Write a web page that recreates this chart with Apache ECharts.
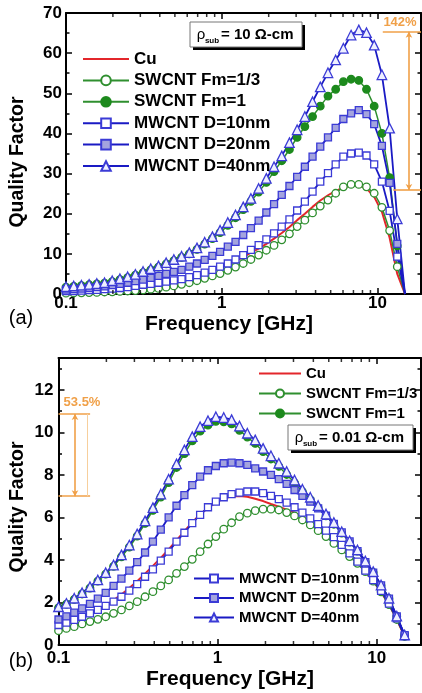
<!DOCTYPE html>
<html>
<head>
<meta charset="utf-8">
<script src="https://cdn.jsdelivr.net/npm/echarts@6/dist/echarts.min.js"></script>
<style>
  html, body { margin: 0; padding: 0; background: #fff; }
  #chart { width: 422px; height: 693px; }
</style>
</head>
<body>
<div id="chart"></div>
<script>
// Frequency sweep shared by both panels (GHz, log-spaced 0.1 .. 15)
const freqGHz = [0.1, 0.1121, 0.1256, 0.1407, 0.1577, 0.1767, 0.198, 0.2219, 0.2487, 0.2787,
  0.3123, 0.35, 0.3922, 0.4395, 0.4925, 0.5519, 0.6185, 0.6931, 0.7767, 0.8704,
  0.9753, 1.093, 1.225, 1.373, 1.538, 1.724, 1.932, 2.165, 2.426, 2.718,
  3.046, 3.414, 3.825, 4.287, 4.804, 5.383, 6.032, 6.76, 7.576, 8.489,
  9.512, 10.66, 11.95, 13.38, 15.0];

// Minor tick positions on the frequency axes
const minorTickGHz = [0.2, 0.3, 0.4, 0.5, 0.6, 0.7, 0.8, 0.9, 2, 3, 4, 5, 6, 7, 8, 9];

const seriesNames = ['Cu', 'SWCNT Fm=1/3', 'SWCNT Fm=1', 'MWCNT D=10nm', 'MWCNT D=20nm', 'MWCNT D=40nm'];

// (a) rho_sub = 10 ohm-cm : quality factor
const qCuA = [0.68, 0.73, 0.82, 0.92, 1.02, 1.15, 1.3, 1.45, 1.65, 1.93, 2.2, 2.45, 2.7, 3.0, 3.3, 3.6, 4.1, 4.6, 5.1, 5.8,
  6.5, 7.3, 8.2, 9.2, 10.3, 11.3, 12.5, 13.8, 15.2, 16.7, 18.4, 20.0, 21.7, 23.3, 24.6, 25.7, 26.5, 27.0, 27.0, 26.3,
  24.2, 20.5, 14.0, 5.0, 0];
const qSw13A = [0.2, 0.25, 0.3, 0.35, 0.4, 0.5, 0.55, 0.65, 0.75, 0.85, 1.0, 1.2, 1.4, 1.7, 2.0, 2.4, 2.8, 3.3, 3.9, 4.5,
  5.1, 5.9, 6.7, 7.6, 8.6, 9.7, 10.9, 12.1, 13.5, 15.0, 16.8, 18.4, 20.2, 21.9, 23.4, 25.1, 26.7, 27.3, 27.3, 26.7,
  25.1, 21.6, 15.8, 6.8, 0];
const qSw1A = [1.7, 1.9, 2.1, 2.3, 2.5, 2.7, 3.1, 3.6, 4.1, 4.7, 5.3, 6.0, 6.7, 7.5, 8.3, 9.1, 10.0, 11.1, 12.4, 13.8,
  15.3, 17.1, 19.0, 21.0, 23.1, 25.4, 27.8, 30.5, 33.2, 36.0, 39.0, 41.7, 44.2, 46.8, 49.3, 51.0, 52.9, 53.5, 53.2, 51.0,
  46.8, 40.0, 29.0, 12.0, 0];
const qMw10A = [0.7, 0.75, 0.85, 0.95, 1.05, 1.2, 1.35, 1.5, 1.7, 2.0, 2.3, 2.5, 2.8, 3.1, 3.4, 3.7, 4.2, 4.7, 5.3, 6.0,
  6.8, 7.6, 8.6, 9.7, 11.0, 12.2, 13.6, 15.1, 16.8, 18.6, 20.8, 23.0, 25.5, 28.0, 30.1, 32.3, 34.2, 35.0, 35.2, 34.5,
  32.3, 28.0, 20.7, 9.3, 0];
const qMw20A = [1.1, 1.2, 1.35, 1.5, 1.7, 1.9, 2.2, 2.5, 2.8, 3.2, 3.6, 4.0, 4.5, 5.0, 5.5, 6.0, 6.8, 7.6, 8.5, 9.5,
  10.5, 11.8, 13.0, 14.7, 16.4, 18.3, 20.3, 22.4, 24.7, 26.9, 29.2, 31.7, 34.2, 36.7, 39.0, 41.4, 43.6, 45.0, 45.8, 44.8,
  42.3, 36.9, 27.7, 12.5, 0];
const qMw40A = [1.8, 2.0, 2.2, 2.4, 2.6, 2.8, 3.3, 3.8, 4.3, 4.9, 5.6, 6.3, 7.0, 7.8, 8.6, 9.4, 10.3, 11.5, 12.9, 14.3,
  15.9, 17.8, 19.7, 21.7, 23.8, 26.3, 28.8, 31.7, 34.4, 37.7, 40.9, 44.2, 47.9, 51.6, 55.1, 58.3, 61.2, 64.5, 65.8, 65.1,
  62.0, 54.6, 41.3, 18.7, 0];

// (b) rho_sub = 0.01 ohm-cm : quality factor
const qCuB = [0.95, 1.05, 1.18, 1.33, 1.5, 1.68, 1.88, 2.1, 2.38, 2.68, 3.0, 3.35, 3.72, 4.1, 4.5, 4.92, 5.35, 5.77, 6.15, 6.45,
  6.7, 6.9, 6.98, 7.01, 6.97, 6.88, 6.77, 6.63, 6.5, 6.37, 6.22, 6.05, 5.8, 5.5, 5.15, 4.82, 4.5, 4.18, 3.86, 3.45,
  3.0, 2.5, 1.9, 1.2, 0.4];
const qSw13B = [0.67, 0.78, 0.86, 0.99, 1.1, 1.21, 1.33, 1.49, 1.65, 1.84, 2.04, 2.27, 2.51, 2.78, 3.06, 3.37, 3.69, 4.03, 4.39, 4.75,
  5.1, 5.45, 5.75, 6.04, 6.2, 6.32, 6.39, 6.39, 6.35, 6.23, 6.07, 5.88, 5.65, 5.38, 5.1, 4.78, 4.47, 4.16, 3.84, 3.45,
  3.0, 2.5, 1.9, 1.2, 0.4];
const qSw1B = [1.75, 1.92, 2.15, 2.4, 2.68, 3.0, 3.33, 3.7, 4.15, 4.6, 5.12, 5.72, 6.33, 6.96, 7.64, 8.35, 9.0, 9.6, 10.06, 10.34,
  10.52, 10.5, 10.4, 10.1, 9.78, 9.48, 9.1, 8.75, 8.4, 8.02, 7.63, 7.21, 6.84, 6.46, 6.07, 5.68, 5.26, 4.84, 4.42, 3.9,
  3.41, 2.79, 2.18, 1.35, 0.46];
const qMw10B = [0.94, 1.05, 1.18, 1.33, 1.49, 1.65, 1.84, 2.04, 2.27, 2.56, 2.86, 3.21, 3.56, 3.97, 4.39, 4.86, 5.28, 5.73, 6.12, 6.48,
  6.74, 6.95, 7.1, 7.17, 7.22, 7.22, 7.14, 7.01, 6.86, 6.7, 6.48, 6.23, 5.96, 5.69, 5.38, 5.07, 4.71, 4.31, 3.92, 3.5,
  3.05, 2.55, 1.95, 1.25, 0.42];
const qMw20B = [1.2, 1.35, 1.52, 1.72, 1.93, 2.18, 2.45, 2.78, 3.12, 3.5, 3.9, 4.35, 4.86, 5.43, 6.0, 6.55, 7.05, 7.52, 7.92, 8.22,
  8.42, 8.55, 8.58, 8.55, 8.47, 8.31, 8.16, 8.0, 7.8, 7.58, 7.29, 7.01, 6.74, 6.43, 6.08, 5.7, 5.3, 4.87, 4.42, 3.9,
  3.4, 2.8, 2.18, 1.34, 0.46];
const qMw40B = [1.8, 1.96, 2.2, 2.46, 2.74, 3.06, 3.4, 3.76, 4.24, 4.7, 5.22, 5.84, 6.46, 7.1, 7.8, 8.52, 9.18, 9.8, 10.27, 10.55,
  10.74, 10.7, 10.6, 10.3, 9.96, 9.65, 9.25, 8.9, 8.55, 8.16, 7.76, 7.33, 6.95, 6.56, 6.16, 5.76, 5.33, 4.9, 4.47, 3.95,
  3.45, 2.82, 2.2, 1.36, 0.47];

// Improvement brackets: [lower Q, upper Q] and their labels
const bracketA = [25.9, 65.3];
const bracketALabel = '142%';
const bracketB = [7.0, 10.87];
const bracketBLabel = '53.5%';

const FONT = '"Liberation Sans", Arial, sans-serif';
const RED = '#e3262b';
const GREEN = '#2f8f2f';
const GREEN_FILL = '#1d8a1d';
const BLUE_LINE = '#1a1ac4';
const BLUE_EDGE = '#3b3bd6';
const BLUE_FILL = '#a4a4de';
const TRI_FILL = '#eef0ff';
const ORANGE = '#f0a048';

const look = {
  'Cu':           { symbol: 'none',     size: 0,   fill: RED,        edge: RED,        line: RED,       lw: 2 },
  'SWCNT Fm=1/3': { symbol: 'circle',   size: 7.5, fill: '#fff',     edge: GREEN,      line: GREEN,     lw: 1.5 },
  'SWCNT Fm=1':   { symbol: 'circle',   size: 7.5, fill: GREEN_FILL, edge: GREEN_FILL, line: GREEN,     lw: 1.5 },
  'MWCNT D=10nm': { symbol: 'rect',     size: 7,   fill: '#fff',     edge: BLUE_EDGE,  line: BLUE_LINE, lw: 1.8 },
  'MWCNT D=20nm': { symbol: 'rect',     size: 7,   fill: BLUE_FILL,  edge: BLUE_EDGE,  line: BLUE_LINE, lw: 1.8 },
  'MWCNT D=40nm': { symbol: 'triangle', size: 9.5, fill: TRI_FILL,   edge: BLUE_EDGE,  line: BLUE_LINE, lw: 1.8 }
};

// Build [f, Q] pairs; in panel (a) the final zero-crossing point carries no marker
function points(ys, bareLast) {
  return freqGHz.map((f, i) => {
    if (bareLast && i === freqGHz.length - 1) return { value: [f, ys[i]], symbol: 'none' };
    return [f, ys[i]];
  });
}

function qSeries(name, ys, xi, yi, bareLast, extra) {
  const s = look[name];
  return Object.assign({
    name, type: 'line', xAxisIndex: xi, yAxisIndex: yi,
    data: points(ys, bareLast),
    symbol: s.symbol, symbolSize: s.size, showSymbol: s.symbol !== 'none',
    itemStyle: { color: s.fill, borderColor: s.edge, borderWidth: 1.3 },
    lineStyle: { color: s.line, width: s.lw },
    emphasis: { disabled: true }, clip: true, animation: false, z: 3
  }, extra || {});
}

function minorTicks(xi, yi, yVal, dir) {
  return {
    type: 'scatter', xAxisIndex: xi, yAxisIndex: yi, silent: true, clip: false, animation: false,
    data: minorTickGHz.map(f => [f, yVal]),
    symbol: 'rect', symbolSize: [1.5, 4], symbolOffset: [0, dir * 2],
    itemStyle: { color: '#000' }, z: 6
  };
}

function bracket(xLeft, xRight, xMid, lo, hi, extraVertical) {
  const data = [
    [{ coord: [xLeft[0], hi] }, { coord: [xRight[0], hi] }],
    [{ coord: [xLeft[1], lo] }, { coord: [xRight[1], lo] }],
    [{ coord: [xMid, hi], symbol: 'arrow', symbolSize: [5, 6] }, { coord: [xMid, lo], symbol: 'arrow', symbolSize: [5, 6] }]
  ];
  if (extraVertical) {
    data.push([{ coord: [extraVertical, hi], lineStyle: { color: '#f7cf9c', width: 1 } },
               { coord: [extraVertical, lo] }]);
  }
  return {
    silent: true, animation: false, symbol: ['none', 'none'], label: { show: false },
    lineStyle: { color: ORANGE, width: 1.6, type: 'solid' }, data
  };
}

const decadeLabel = v => {
  const e = Math.round(Math.log10(v));
  return Math.abs(Math.log10(v) - e) < 1e-6 ? String(+Math.pow(10, e).toFixed(1)) : '';
};

function xAxisCfg(gridIndex, position, showLabels, margin) {
  return {
    type: 'log', logBase: 10, min: 0.1, max: 19, gridIndex, position,
    axisLine: { show: true, onZero: false, lineStyle: { color: '#000', width: 2 } },
    axisTick: { show: true, inside: true, length: 6, lineStyle: { color: '#000', width: 1.5 } },
    minorTick: { show: false }, splitLine: { show: false }, minorSplitLine: { show: false },
    axisLabel: { show: showLabels, color: '#000', fontFamily: FONT, fontWeight: 'bold', fontSize: 17,
      margin, formatter: decadeLabel, showMaxLabel: false, hideOverlap: false }
  };
}

function yAxisCfg(gridIndex, position, max, interval, showLabels, margin) {
  return {
    type: 'value', min: 0, max, interval, gridIndex, position,
    axisLine: { show: true, onZero: false, lineStyle: { color: '#000', width: 2 } },
    axisTick: { show: true, inside: true, length: 6, lineStyle: { color: '#000', width: 1.5 } },
    minorTick: { show: true, splitNumber: 2, length: 3.5, lineStyle: { color: '#000', width: 1.5 } },
    splitLine: { show: false },
    axisLabel: { show: showLabels, color: '#000', fontFamily: FONT, fontWeight: 'bold', fontSize: 17, margin,
      formatter: v => (Math.abs(v / interval - Math.round(v / interval)) < 1e-6 ? String(v) : '') }
  };
}

function legendCfg(names, left, top, itemWidth, itemHeight, gap, fontSize) {
  return {
    data: names.map(n => n === 'Cu'
      ? { name: n, itemStyle: { color: 'rgba(0,0,0,0)', borderColor: 'rgba(0,0,0,0)', borderWidth: 0 } }
      : n),
    orient: 'vertical', left, top, itemWidth, itemHeight, itemGap: gap, padding: 0,
    selectedMode: false,
    textStyle: { fontFamily: FONT, fontWeight: 'bold', fontSize, color: '#000', lineHeight: itemHeight }
  };
}

function label(text, x, y, size, opts) {
  return Object.assign({
    type: 'text', x, y, silent: true, z: 50,
    style: Object.assign({ text, font: 'bold ' + size + 'px ' + FONT, fill: '#000',
      textAlign: 'center', textVerticalAlign: 'middle' }, (opts && opts.style) || {})
  }, (opts && opts.el) || {});
}

function rhoBox(x, y, w, h, valueText) {
  return [
    { type: 'rect', silent: true, z: 40, shape: { x: x + 3, y: y + 3, width: w, height: h }, style: { fill: '#000' } },
    { type: 'rect', silent: true, z: 41, shape: { x, y, width: w, height: h }, style: { fill: '#fff', stroke: '#777', lineWidth: 1 } },
    label('\u03c1', x + 11, y + h / 2, 15, { style: { font: '15px ' + FONT } }),
    label('sub', x + 22, y + h / 2 + 6, 8, { style: { font: 'bold 8px ' + FONT } }),
    label(valueText, x + 31, y + h / 2, 15, { style: { textAlign: 'left' } })
  ];
}

const chart = echarts.init(document.getElementById('chart'), null, { renderer: 'canvas' });

const option = {
  animation: false,
  backgroundColor: '#fff',
  grid: [
    { left: 66, right: 1, top: 13, height: 281 },
    { left: 58.5, right: 1, top: 358, height: 287 }
  ],
  xAxis: [
    xAxisCfg(0, 'bottom', true, 1),
    xAxisCfg(0, 'top', false, 0),
    xAxisCfg(1, 'bottom', true, 5),
    xAxisCfg(1, 'top', false, 0)
  ],
  yAxis: [
    yAxisCfg(0, 'left', 70, 10, true, 4),
    yAxisCfg(0, 'right', 70, 10, false, 0),
    yAxisCfg(1, 'left', 13.5, 2, true, 5),
    yAxisCfg(1, 'right', 13.5, 2, false, 0)
  ],
  legend: [
    legendCfg(seriesNames, 82, 50.5, 46, 12, 4.4, 17),
    legendCfg(seriesNames.slice(0, 3), 258, 366, 42, 10, 5, 15),
    legendCfg(seriesNames.slice(3), 193, 571, 40, 10, 4.5, 15)
  ],
  series: [
    // panel (a)
    qSeries('Cu', qCuA, 0, 0, true, {
      markLine: bracket([10.8, 12.6], [19, 19], 15.9, bracketA[0], bracketA[1])
    }),
    qSeries('SWCNT Fm=1/3', qSw13A, 0, 0, true),
    qSeries('SWCNT Fm=1', qSw1A, 0, 0, true),
    qSeries('MWCNT D=10nm', qMw10A, 0, 0, true),
    qSeries('MWCNT D=20nm', qMw20A, 0, 0, true),
    qSeries('MWCNT D=40nm', qMw40A, 0, 0, true),
    minorTicks(0, 0, 0, -1),
    minorTicks(0, 0, 70, 1),
    // panel (b)
    qSeries('Cu', qCuB, 2, 2, false, {
      markLine: bracket([0.1, 0.1], [0.158, 0.158], 0.127, bracketB[0], bracketB[1], 0.152)
    }),
    qSeries('SWCNT Fm=1/3', qSw13B, 2, 2, false),
    qSeries('SWCNT Fm=1', qSw1B, 2, 2, false),
    qSeries('MWCNT D=10nm', qMw10B, 2, 2, false),
    qSeries('MWCNT D=20nm', qMw20B, 2, 2, false),
    qSeries('MWCNT D=40nm', qMw40B, 2, 2, false),
    minorTicks(2, 2, 0, -1),
    minorTicks(2, 2, 13.5, 1)
  ],
  graphic: [
    label('Quality Factor', 18, 162, 19.5, { el: { rotation: Math.PI / 2 } }),
    label('Frequency [GHz]', 229, 324, 21),
    label('(a)', 21, 318, 20, { style: { font: '20px ' + FONT } }),
    label(bracketALabel, 400, 22, 13, { style: { fill: ORANGE } }),
    ...rhoBox(190, 22, 112, 25, '= 10 \u03a9-cm'),

    label('Quality Factor', 18, 507, 19.5, { el: { rotation: Math.PI / 2 } }),
    label('Frequency [GHz]', 230, 679, 21),
    label('(b)', 21, 661, 20, { style: { font: '20px ' + FONT } }),
    label(bracketBLabel, 82, 402, 13, { style: { fill: ORANGE } }),
    ...rhoBox(288, 425, 125, 25, '= 0.01 \u03a9-cm')
  ]
};

chart.setOption(option);
</script>
</body>
</html>
